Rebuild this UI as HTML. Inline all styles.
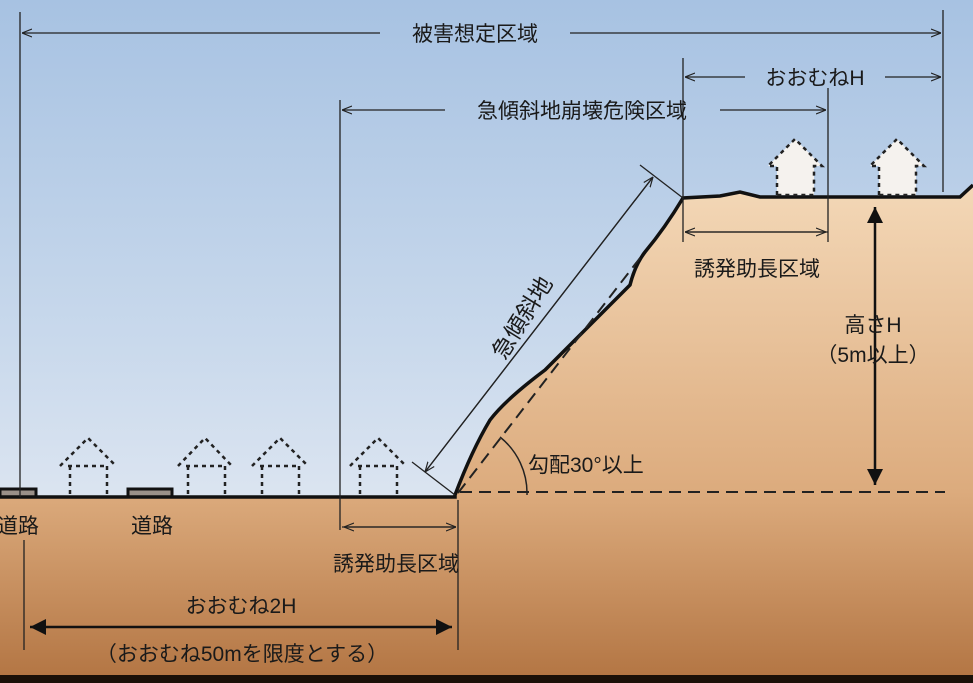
<!DOCTYPE html>
<html><head><meta charset="utf-8"><style>
html,body{margin:0;padding:0;width:973px;height:683px;overflow:hidden}
svg text{font-family:"Liberation Sans","Noto Sans CJK JP",sans-serif;fill:#1a1a1a}
</style></head><body>
<svg width="973" height="683" viewBox="0 0 973 683" xmlns="http://www.w3.org/2000/svg">
<defs>
<linearGradient id="sky" x1="0" y1="0" x2="0" y2="1">
<stop offset="0" stop-color="#a7c2e2"/><stop offset="0.5" stop-color="#c9d9ec"/><stop offset="1" stop-color="#f1f2f6"/>
</linearGradient>
<linearGradient id="gr" x1="0" y1="0" x2="0" y2="683" gradientUnits="userSpaceOnUse">
<stop offset="0.28" stop-color="#f3d7b6"/><stop offset="0.72" stop-color="#dcab7d"/><stop offset="1" stop-color="#b27442"/>
</linearGradient>
<marker id="oa" viewBox="0 0 10 10" refX="10" refY="5" markerWidth="10" markerHeight="10" orient="auto" markerUnits="userSpaceOnUse"><path d="M0,1 L10,5 L0,9" fill="none" stroke="#222" stroke-width="1.2"/></marker>
<marker id="fa" viewBox="0 0 10 10" refX="10" refY="5" markerWidth="18" markerHeight="16" orient="auto-start-reverse" markerUnits="userSpaceOnUse"><path d="M0,0 L10,5 L0,10z" fill="#111"/></marker>
</defs>
<rect width="973" height="683" fill="url(#sky)"/>
<path d="M0,497 L455,497 L455,495 Q472,450 490,420 Q505,400 545,370 L575,340 Q615,300 630,285 Q635,265 645,252 Q665,228 683,198 L720,196 L740,192 L760,197 L960,197 L973,185 L973,683 L0,683z" fill="url(#gr)"/>
<rect x="0" y="675" width="973" height="8" fill="#1a1008"/>
<path d="M0,497 L0,489 L36,489 L36,497 M128,497 L128,489 L172,489 L172,497" fill="#9a9088" stroke="#111" stroke-width="3"/>
<path d="M0,497 L455,497 L455,495 Q472,450 490,420 Q505,400 545,370 L575,340 Q615,300 630,285 Q635,265 645,252 Q665,228 683,198 L720,196 L740,192 L760,197 L960,197 L973,185" fill="none" stroke="#111" stroke-width="3.5"/>
<line x1="458" y1="493" x2="640" y2="258" stroke="#222" stroke-width="2" stroke-dasharray="12,7"/>
<line x1="460" y1="492" x2="945" y2="492" stroke="#222" stroke-width="2" stroke-dasharray="12,7"/>
<path d="M527,495 A72,72 0 0 0 500,437" fill="none" stroke="#222" stroke-width="1.5"/>
<g fill="none" stroke="#222" stroke-width="2.5" stroke-dasharray="4,4">
<path d="M60,466 L88,438 L116,466 M68,466 L108,466 M70,466 L70,497 M107,466 L107,497"/>
<path d="M178,466 L205,438 L232,466 M186,466 L226,466 M188,466 L188,497 M225,466 L225,497"/>
<path d="M252,466 L280,438 L308,466 M260,466 L300,466 M262,466 L262,497 M299,466 L299,497"/>
<path d="M350,466 L378,438 L406,466 M358,466 L398,466 M360,466 L360,497 M397,466 L397,497"/>
</g>
<g fill="#f5f2ee" stroke="#222" stroke-width="2.5" stroke-dasharray="4,4">
<path d="M777,195 L777,166 L768,166 L795,139 L822,166 L814,166 L814,195z"/>
<path d="M879,195 L879,166 L870,166 L897,139 L924,166 L916,166 L916,195z"/>
</g>
<g stroke="#222" stroke-width="1.3" fill="none">
<line x1="20" y1="12" x2="20" y2="497"/>
<line x1="943" y1="10" x2="943" y2="192"/>
<line x1="683" y1="58" x2="683" y2="242"/>
<line x1="828" y1="88" x2="828" y2="242"/>
<line x1="340" y1="100" x2="340" y2="530"/>
<line x1="24" y1="540" x2="24" y2="650"/>
<line x1="458" y1="500" x2="458" y2="650"/>
<line x1="380" y1="33" x2="22" y2="33" marker-end="url(#oa)"/>
<line x1="570" y1="33" x2="941" y2="33" marker-end="url(#oa)"/>
<line x1="745" y1="77" x2="685" y2="77" marker-end="url(#oa)"/>
<line x1="885" y1="77" x2="941" y2="77" marker-end="url(#oa)"/>
<line x1="445" y1="110" x2="342" y2="110" marker-end="url(#oa)"/>
<line x1="720" y1="110" x2="826" y2="110" marker-end="url(#oa)"/>
<line x1="685" y1="232" x2="826" y2="232" marker-end="url(#oa)"/>
<line x1="828" y1="232" x2="685" y2="232" marker-end="url(#oa)"/>
<line x1="342" y1="527" x2="456" y2="527" marker-end="url(#oa)"/>
<line x1="456" y1="527" x2="344" y2="527" marker-end="url(#oa)"/>
<line x1="412" y1="462" x2="455" y2="495"/>
<line x1="640" y1="165" x2="683" y2="198"/>
<line x1="425" y1="472" x2="653" y2="177" marker-end="url(#oa)"/>
<line x1="653" y1="177" x2="425" y2="472" marker-end="url(#oa)"/>
</g>
<line x1="30" y1="627" x2="452" y2="627" stroke="#111" stroke-width="2.5" marker-start="url(#fa)" marker-end="url(#fa)"/>
<line x1="875" y1="207" x2="875" y2="485" stroke="#111" stroke-width="2.5" marker-start="url(#fa)" marker-end="url(#fa)"/>
<g font-size="21">
<text x="475" y="41" text-anchor="middle">被害想定区域</text>
<text x="815" y="85" text-anchor="middle">おおむねH</text>
<text x="582" y="118" text-anchor="middle">急傾斜地崩壊危険区域</text>
<text x="757" y="276" text-anchor="middle">誘発助長区域</text>
<text x="873" y="332" text-anchor="middle">高さH</text>
<text x="873" y="362" text-anchor="middle">（5m以上）</text>
<text x="528" y="472">勾配30°以上</text>
<text x="18" y="533" text-anchor="middle">道路</text>
<text x="152" y="533" text-anchor="middle">道路</text>
<text x="396" y="571" text-anchor="middle">誘発助長区域</text>
<text x="241" y="613" text-anchor="middle">おおむね2H</text>
<text x="242" y="661" text-anchor="middle">（おおむね50mを限度とする）</text>
<text x="0" y="0" font-size="23" transform="translate(529,322) rotate(-58)" text-anchor="middle">急傾斜地</text>
</g>
</svg>
</body></html>
